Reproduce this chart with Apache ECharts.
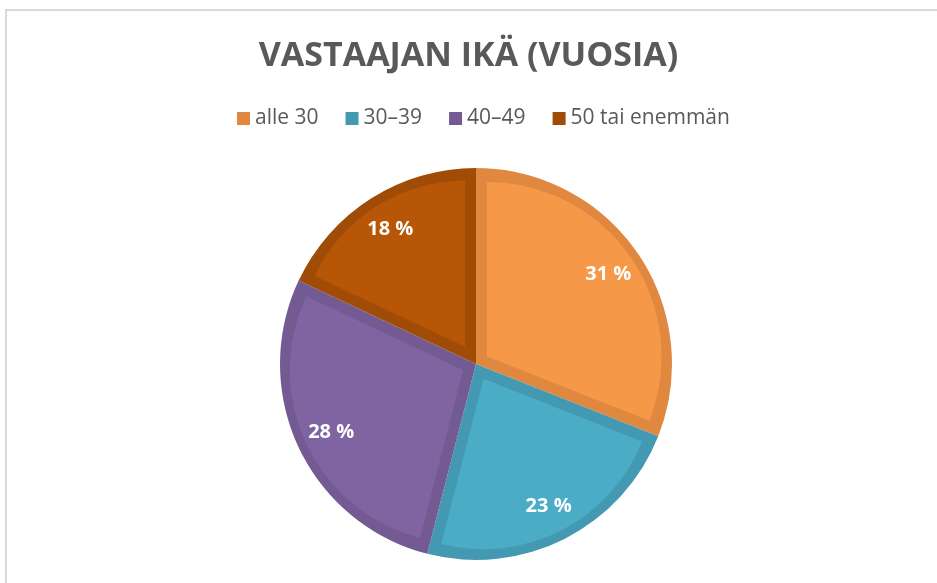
<!DOCTYPE html>
<html>
<head>
<meta charset="utf-8">
<script src="https://cdn.jsdelivr.net/npm/echarts@6/dist/echarts.min.js"></script>
<style>
    html, body { margin: 0; padding: 0; background: #fff; }
    #chart { width: 937px; height: 583px; }
</style>
</head>
<body>
<div id="chart"></div>
<script>
const categories = ['alle 30', '30–39', '40–49', '50 tai enemmän'];
const shares = [31, 23, 28, 18];
const fillColors = ['#F59848', '#4BACC6', '#8064A2', '#B75606'];
const edgeColors = ['#E0883F', '#4399B1', '#745A93', '#A04C06'];

const cx = 476, cy = 364, R = 196, edge = 11;
const total = shares.reduce((a, b) => a + b, 0);

let chart = echarts.init(document.getElementById('chart'));

// outer (darker) slices, these also give the legend its colours
let series = [{
    name: 'base',
    type: 'pie',
    center: [cx, cy],
    radius: [0, R],
    silent: true,
    label: { show: false },
    labelLine: { show: false },
    itemStyle: { borderWidth: 0 },
    data: categories.map((c, i) => ({ name: c, value: shares[i], itemStyle: { color: edgeColors[i] } }))
}];

// lighter inner part of each slice: its tip is moved into the slice so the straight edges sit `edge` px inside
let cum = 0;
shares.forEach((v, i) => {
    const mid = 2 * Math.PI * (cum + v / 2) / total;
    const half = Math.PI * v / total;
    cum += v;
    const s = edge / Math.sin(half);
    const r = R - edge - s * (1 + Math.cos(half)) / 2;
    series.push({
        name: 'inner' + i,
        type: 'pie',
        center: [cx + s * Math.sin(mid), cy - s * Math.cos(mid)],
        radius: [0, r],
        silent: true,
        label: { show: false },
        labelLine: { show: false },
        data: categories.map((c, j) => ({
            name: c, value: shares[j],
            itemStyle: { color: j == i ? fillColors[j] : 'rgba(0,0,0,0)', borderWidth: 0 }
        }))
    });
});

// labels only
series.push({
    name: 'labels',
    type: 'pie',
    center: [cx, cy],
    radius: [118, R],
    silent: true,
    itemStyle: { color: 'rgba(0,0,0,0)', borderWidth: 0 },
    label: {
        show: true,
        position: 'inside',
        formatter: '{c} %',
        color: '#fff',
        fontFamily: 'Open Sans',
        fontWeight: 'bold',
        fontSize: 20
    },
    labelLine: { show: false },
    data: categories.map((c, i) => ({ name: c, value: shares[i] }))
});

chart.setOption({
    animation: false,
    title: {
        text: 'VASTAAJAN IKÄ (VUOSIA)',
        left: 'center',
        top: 34,
        textStyle: {
            fontFamily: 'Open Sans',
            fontWeight: 'bold',
            fontSize: 34,
            color: '#595959'
        }
    },
    legend: {
        data: categories,
        top: 103,
        left: 232,
        icon: 'rect',
        itemWidth: 13,
        itemHeight: 13,
        itemGap: 27,
        textStyle: {
            fontFamily: 'Open Sans',
            fontSize: 21,
            color: '#595959'
        }
    },
    graphic: [{
        type: 'rect',
        shape: { x: 6, y: 10, width: 1000, height: 1000 },
        style: { fill: 'none', stroke: '#d9d9d9', lineWidth: 2 },
        silent: true
    }],
    series: series
});
</script>
</body>
</html>
